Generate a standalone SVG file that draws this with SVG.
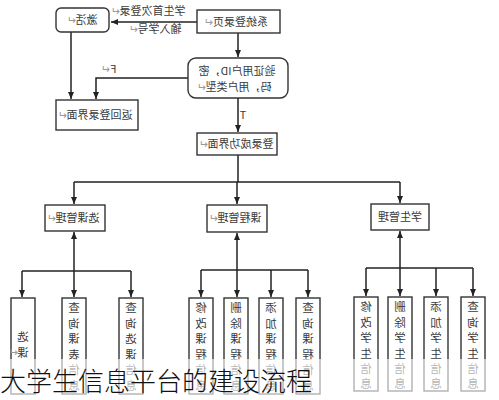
<svg xmlns="http://www.w3.org/2000/svg" width="499" height="400" viewBox="0 0 499 400">
<style>
.box{fill:#fff;stroke:#333;stroke-width:1.4}
.t{font-family:"Noto Sans CJK SC","Noto Sans",sans-serif;font-size:11px;fill:#3a3a3a;text-anchor:middle}
.v{font-family:"Noto Sans CJK SC","Noto Sans",sans-serif;font-size:11.5px;fill:#3a3a3a;text-anchor:middle}
.pm{fill:#999}
.c{fill:none;stroke:#222;stroke-width:1.5}
.cap{font-family:"Noto Sans CJK SC","Noto Sans",sans-serif;font-size:26px;fill:#111;font-weight:300}
</style>
<defs>
<marker id="ah" markerUnits="userSpaceOnUse" markerWidth="8" markerHeight="8" refX="7" refY="4" orient="auto-start-reverse">
<path d="M0,1 L7,4 L0,7 Z" fill="#222"/>
</marker>
</defs>
<rect width="499" height="400" fill="#fff"/>

<g id="connectors">
<path class="c" d="M197,22 H111" marker-end="url(#ah)"/>
<path class="c" d="M238,33 V57" marker-end="url(#ah)"/>
<path class="c" d="M188,78 H96 V99" marker-end="url(#ah)"/>
<path class="c" d="M71,32 V99" marker-end="url(#ah)"/>
<path class="c" d="M238,98 V132" marker-end="url(#ah)"/>
<path class="c" d="M238,155 V182 M74,182 H400"/>
<path class="c" d="M74,182 V204" marker-end="url(#ah)"/>
<path class="c" d="M237,182 V204" marker-end="url(#ah)"/>
<path class="c" d="M400,182 V203" marker-end="url(#ah)"/>
<path class="c" d="M74,232 V297" marker-start="url(#ah)" marker-end="url(#ah)"/>
<path class="c" d="M22,271 H131"/>
<path class="c" d="M22,271 V297" marker-end="url(#ah)"/>
<path class="c" d="M131,271 V297" marker-end="url(#ah)"/>
<path class="c" d="M237,233 V297" marker-start="url(#ah)" marker-end="url(#ah)"/>
<path class="c" d="M201,270 H308"/>
<path class="c" d="M201,270 V297" marker-end="url(#ah)"/>
<path class="c" d="M271,270 V297" marker-end="url(#ah)"/>
<path class="c" d="M308,270 V297" marker-end="url(#ah)"/>
<path class="c" d="M400,231 V296" marker-start="url(#ah)" marker-end="url(#ah)"/>
<path class="c" d="M366,268 H473"/>
<path class="c" d="M366,268 V296" marker-end="url(#ah)"/>
<path class="c" d="M436,268 V296" marker-end="url(#ah)"/>
<path class="c" d="M473,268 V296" marker-end="url(#ah)"/>
<text class="t" x="148" y="15" transform="matrix(-1 0 0 1 296 0)">学生首次登录<tspan class="pm">↵</tspan></text>
<text class="t" x="155" y="33" transform="matrix(-1 0 0 1 310 0)">输入学号<tspan class="pm">↵</tspan></text>
<text class="t" x="109" y="73" transform="matrix(-1 0 0 1 218 0)">F<tspan class="pm">↵</tspan></text>
<text class="t" x="243" y="119" transform="matrix(-1 0 0 1 486 0)">T</text>
</g>

<g id="n-activate">
<rect class="box" x="56" y="8" width="53" height="24" rx="5"/>
<text class="t" x="82" y="24" transform="matrix(-1 0 0 1 164 0)">激活<tspan class="pm">↵</tspan></text>
</g>
<g id="n-login">
<rect class="box" x="197" y="10" width="83" height="23"/>
<text class="t" x="236" y="26" transform="matrix(-1 0 0 1 472 0)">系统登录页<tspan class="pm">↵</tspan></text>
</g>
<g id="n-verify">
<rect class="box" x="188" y="58" width="100" height="40" rx="8"/>
<text class="t" x="237" y="75" transform="matrix(-1 0 0 1 474 0)">验证用户ID，密</text>
<text class="t" x="234" y="91" transform="matrix(-1 0 0 1 468 0)">码，用户类型<tspan class="pm">↵</tspan></text>
</g>
<g id="n-return">
<rect class="box" x="56" y="100" width="82" height="30"/>
<text class="t" x="95" y="119" transform="matrix(-1 0 0 1 190 0)">返回登录界面<tspan class="pm">↵</tspan></text>
</g>
<g id="n-success">
<rect class="box" x="197" y="133" width="80" height="22"/>
<text class="t" x="236" y="148" transform="matrix(-1 0 0 1 472 0)">登录成功界面<tspan class="pm">↵</tspan></text>
</g>
<g id="n-xkgl">
<rect class="box" x="45" y="205" width="60" height="26"/>
<text class="t" x="73" y="222" transform="matrix(-1 0 0 1 146 0)">选课管理<tspan class="pm">↵</tspan></text>
</g>
<g id="n-kcgl">
<rect class="box" x="207" y="205" width="60" height="27"/>
<text class="t" x="235" y="222" transform="matrix(-1 0 0 1 470 0)">课程管理<tspan class="pm">↵</tspan></text>
</g>
<g id="n-xsgl">
<rect class="box" x="371" y="204" width="58" height="26"/>
<text class="t" x="400" y="221" transform="matrix(-1 0 0 1 800 0)">学生管理</text>
</g>

<g id="n-xk">
<rect class="box" x="11" y="298" width="24" height="96"/>
<text class="v" transform="matrix(-1 0 0 1 46 0)"><tspan x="23" y="341">选</tspan><tspan x="23" y="357">课</tspan></text>
<text class="t pm" x="13" y="356" transform="matrix(-1 0 0 1 26 0)">↵</text>
</g>
<g id="n-cxkb">
<rect class="box" x="62" y="298" width="24" height="96"/>
<text class="v" transform="matrix(-1 0 0 1 148 0)"><tspan x="74" y="312">查</tspan><tspan x="74" y="327.5">询</tspan><tspan x="74" y="343">课</tspan><tspan x="74" y="358.5">表</tspan><tspan x="74" y="374">信</tspan><tspan x="74" y="389.5">息</tspan></text>
</g>
<g id="n-cxxk">
<rect class="box" x="119" y="298" width="24" height="96"/>
<text class="v" transform="matrix(-1 0 0 1 262 0)"><tspan x="131" y="312">查</tspan><tspan x="131" y="327.5">询</tspan><tspan x="131" y="343">选</tspan><tspan x="131" y="358.5">课</tspan><tspan x="131" y="374">信</tspan><tspan x="131" y="389.5">息</tspan></text>
</g>
<g id="n-xgkc">
<rect class="box" x="189" y="298" width="24" height="96"/>
<text class="v" transform="matrix(-1 0 0 1 402 0)"><tspan x="201" y="312">修</tspan><tspan x="201" y="327.5">改</tspan><tspan x="201" y="343">课</tspan><tspan x="201" y="358.5">程</tspan><tspan x="201" y="374">信</tspan><tspan x="201" y="389.5">息</tspan></text>
</g>
<g id="n-sckc">
<rect class="box" x="224" y="298" width="24" height="96"/>
<text class="v" transform="matrix(-1 0 0 1 472 0)"><tspan x="236" y="312">删</tspan><tspan x="236" y="327.5">除</tspan><tspan x="236" y="343">课</tspan><tspan x="236" y="358.5">程</tspan><tspan x="236" y="374">信</tspan><tspan x="236" y="389.5">息</tspan></text>
</g>
<g id="n-tjkc">
<rect class="box" x="259" y="298" width="24" height="96"/>
<text class="v" transform="matrix(-1 0 0 1 542 0)"><tspan x="271" y="312">添</tspan><tspan x="271" y="327.5">加</tspan><tspan x="271" y="343">课</tspan><tspan x="271" y="358.5">程</tspan><tspan x="271" y="374">信</tspan><tspan x="271" y="389.5">息</tspan></text>
</g>
<g id="n-cxkc">
<rect class="box" x="296" y="298" width="24" height="96"/>
<text class="v" transform="matrix(-1 0 0 1 616 0)"><tspan x="308" y="312">查</tspan><tspan x="308" y="327.5">询</tspan><tspan x="308" y="343">课</tspan><tspan x="308" y="358.5">程</tspan><tspan x="308" y="374">信</tspan><tspan x="308" y="389.5">息</tspan></text>
</g>
<g id="n-xgxs">
<rect class="box" x="354" y="297" width="24" height="94"/>
<text class="v" transform="matrix(-1 0 0 1 732 0)"><tspan x="366" y="311">修</tspan><tspan x="366" y="326.5">改</tspan><tspan x="366" y="342">学</tspan><tspan x="366" y="357.5">生</tspan><tspan x="366" y="373">信</tspan><tspan x="366" y="388">息</tspan></text>
</g>
<g id="n-scxs">
<rect class="box" x="388" y="297" width="24" height="94"/>
<text class="v" transform="matrix(-1 0 0 1 800 0)"><tspan x="400" y="311">删</tspan><tspan x="400" y="326.5">除</tspan><tspan x="400" y="342">学</tspan><tspan x="400" y="357.5">生</tspan><tspan x="400" y="373">信</tspan><tspan x="400" y="388">息</tspan></text>
</g>
<g id="n-tjxs">
<rect class="box" x="424" y="297" width="24" height="94"/>
<text class="v" transform="matrix(-1 0 0 1 872 0)"><tspan x="436" y="311">添</tspan><tspan x="436" y="326.5">加</tspan><tspan x="436" y="342">学</tspan><tspan x="436" y="357.5">生</tspan><tspan x="436" y="373">信</tspan><tspan x="436" y="388">息</tspan></text>
</g>
<g id="n-cxxs">
<rect class="box" x="461" y="297" width="24" height="94"/>
<text class="v" transform="matrix(-1 0 0 1 946 0)"><tspan x="473" y="311">查</tspan><tspan x="473" y="326.5">询</tspan><tspan x="473" y="342">学</tspan><tspan x="473" y="357.5">生</tspan><tspan x="473" y="373">信</tspan><tspan x="473" y="388">息</tspan></text>
</g>

<rect x="0" y="359" width="499" height="41" fill="#fff" fill-opacity="0.62"/>
<text class="cap" x="0" y="391">大学生信息平台的建设流程</text>
</svg>
